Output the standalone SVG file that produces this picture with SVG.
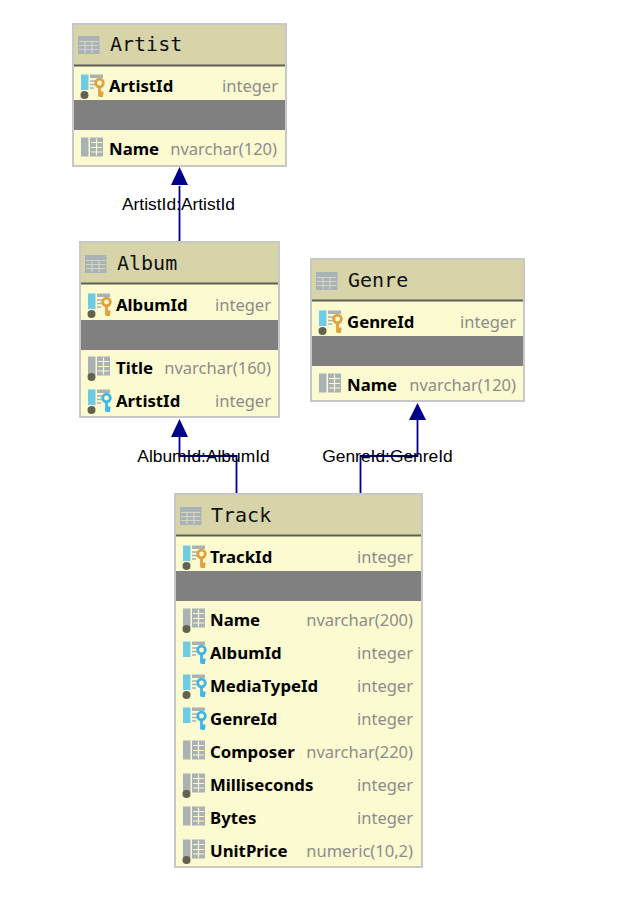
<svg xmlns="http://www.w3.org/2000/svg" width="638" height="905" viewBox="0 0 638 905">
<style>
.box{fill:#fcfad0;stroke:#c8c8c8;stroke-width:2}
.hd{fill:#d7d4a9}
.sep{stroke:#5f5f55;stroke-width:2}
.gap{fill:#808080}
.title{font:20px "DejaVu Sans Mono",monospace;fill:#111}
.n{font:bold 16.8px "Noto Sans","Liberation Sans",sans-serif;fill:#000}
.t{font:16.500px "Noto Sans","Liberation Sans",sans-serif;fill:#8c8c8c;text-anchor:end}
.lbl{font:17.400px "Liberation Sans",Arial,sans-serif;fill:#000;text-anchor:middle}
.edge{fill:none;stroke:#00008b;stroke-width:1.800}
.arrow{fill:#00008b}
</style>
<defs>
<g id="tbl"><rect x="0" y="0" width="21.500" height="18" fill="#a9b2b6"/><path d="M1 5.500H20.500M1 9.500H20.500M1 13.500H20.500M7 5V17M14 5V17" stroke="#d4d6c0" stroke-width="1.200"/></g>
<g id="grid"><rect x="0" y="-17.500" width="7.500" height="19" fill="#a9b1b3"/><rect x="9" y="-17.500" width="13" height="19" fill="#a9b1b3"/><path d="M10 -12.500H21M10 -7.500H21M10 -3H21M15.500 -16.500V0.500" stroke="#fcfad0" stroke-width="1.200"/></g>
<g id="kb"><rect x="0" y="-17.500" width="7.500" height="15.500" fill="#6ecbe3"/><rect x="9" y="-17.500" width="13" height="3.500" fill="#a9b1b3"/><path d="M9 -11H14M9 -7.500H14M9 -4H13" stroke="#a9b1b3" stroke-width="1.400"/></g>
<g id="dot"><circle cx="3.500" cy="3" r="4" fill="#62624f"/></g>
<g id="kO"><circle cx="18.500" cy="-9" r="3.800" fill="none" stroke="#e0a23e" stroke-width="2.800"/><path d="M18.500 -5V4.500M18.500 1H22.500M18.500 3.500H22" fill="none" stroke="#e0a23e" stroke-width="2.800"/></g>
<g id="kB"><circle cx="18.500" cy="-9" r="3.800" fill="none" stroke="#3fb6e6" stroke-width="2.800"/><path d="M18.500 -5V4.500M18.500 1H22.500M18.500 3.500H22" fill="none" stroke="#3fb6e6" stroke-width="2.800"/></g>
</defs>
<rect width="638" height="905" fill="#fff"/>
<g id="connectors">
<path class="edge" d="M179.500 241V186"/>
<path class="arrow" d="M179.500 167 171 185H188Z"/>
<path class="edge" d="M236.500 493V456H179.500V436"/>
<path class="arrow" d="M179.500 419 171 437H188Z"/>
<path class="edge" d="M360.500 493V456H417.500V419"/>
<path class="arrow" d="M417.500 403 409 420H426Z"/>
</g>
<g id="edge-labels">
<text class="lbl" x="178.500" y="210">ArtistId:ArtistId</text>
<text class="lbl" x="203.500" y="462">AlbumId:AlbumId</text>
<text class="lbl" x="387.500" y="462">GenreId:GenreId</text>
</g>
<g id="artist" transform="translate(73,24)">
<rect class="box" width="213" height="142"/><rect class="hd" x="1" y="1" width="211" height="40"/><path class="sep" d="M1 41.500H212"/><rect class="gap" x="1" y="76" width="211" height="30"/>
<use href="#tbl" x="5" y="12"/><text class="title" x="37" y="27">Artist</text>
<g transform="translate(8,68)"><use href="#kb"/><use href="#dot"/><use href="#kO"/></g><text class="n" x="36" y="68">ArtistId</text><text class="t" x="205" y="68">integer</text>
<g transform="translate(8,131)"><use href="#grid"/></g><text class="n" x="36" y="131">Name</text><text class="t" x="204" y="131">nvarchar(120)</text>
</g>
<g id="album" transform="translate(80,242)">
<rect class="box" width="199" height="175"/><rect class="hd" x="1" y="1" width="197" height="40"/><path class="sep" d="M1 41.500H198"/><rect class="gap" x="1" y="78" width="197" height="30"/>
<use href="#tbl" x="5" y="13"/><text class="title" x="37" y="28">Album</text>
<g transform="translate(8,69)"><use href="#kb"/><use href="#dot"/><use href="#kO"/></g><text class="n" x="36" y="69">AlbumId</text><text class="t" x="191" y="69">integer</text>
<g transform="translate(8,132)"><use href="#grid"/><use href="#dot"/></g><text class="n" x="36" y="132">Title</text><text class="t" x="191" y="132">nvarchar(160)</text>
<g transform="translate(8,165)"><use href="#kb"/><use href="#dot"/><use href="#kB"/></g><text class="n" x="36" y="165">ArtistId</text><text class="t" x="191" y="165">integer</text>
</g>
<g id="genre" transform="translate(311,259)">
<rect class="box" width="213" height="142"/><rect class="hd" x="1" y="1" width="211" height="40"/><path class="sep" d="M1 41.500H212"/><rect class="gap" x="1" y="77" width="211" height="30"/>
<use href="#tbl" x="5" y="13"/><text class="title" x="37" y="28">Genre</text>
<g transform="translate(8,69)"><use href="#kb"/><use href="#dot"/><use href="#kO"/></g><text class="n" x="36" y="69">GenreId</text><text class="t" x="205" y="69">integer</text>
<g transform="translate(8,132)"><use href="#grid"/></g><text class="n" x="36" y="132">Name</text><text class="t" x="205" y="132">nvarchar(120)</text>
</g>
<g id="track" transform="translate(175,494)">
<rect class="box" width="247" height="373"/><rect class="hd" x="1" y="1" width="245" height="40"/><path class="sep" d="M1 41.500H246"/><rect class="gap" x="1" y="77" width="245" height="30"/>
<use href="#tbl" x="5" y="13"/><text class="title" x="36" y="28">Track</text>
<g transform="translate(8,69)"><use href="#kb"/><use href="#dot"/><use href="#kO"/></g><text class="n" x="35" y="69">TrackId</text><text class="t" x="238" y="69">integer</text>
<g transform="translate(8,132)"><use href="#grid"/><use href="#dot"/></g><text class="n" x="35" y="132">Name</text><text class="t" x="238" y="132">nvarchar(200)</text>
<g transform="translate(8,165)"><use href="#kb"/><use href="#kB"/></g><text class="n" x="35" y="165">AlbumId</text><text class="t" x="238" y="165">integer</text>
<g transform="translate(8,198)"><use href="#kb"/><use href="#dot"/><use href="#kB"/></g><text class="n" x="35" y="198">MediaTypeId</text><text class="t" x="238" y="198">integer</text>
<g transform="translate(8,231)"><use href="#kb"/><use href="#kB"/></g><text class="n" x="35" y="231">GenreId</text><text class="t" x="238" y="231">integer</text>
<g transform="translate(8,264)"><use href="#grid"/></g><text class="n" x="35" y="264">Composer</text><text class="t" x="238" y="264">nvarchar(220)</text>
<g transform="translate(8,297)"><use href="#grid"/><use href="#dot"/></g><text class="n" x="35" y="297">Milliseconds</text><text class="t" x="238" y="297">integer</text>
<g transform="translate(8,330)"><use href="#grid"/></g><text class="n" x="35" y="330">Bytes</text><text class="t" x="238" y="330">integer</text>
<g transform="translate(8,363)"><use href="#grid"/><use href="#dot"/></g><text class="n" x="35" y="363">UnitPrice</text><text class="t" x="238" y="363">numeric(10,2)</text>
</g>
</svg>
